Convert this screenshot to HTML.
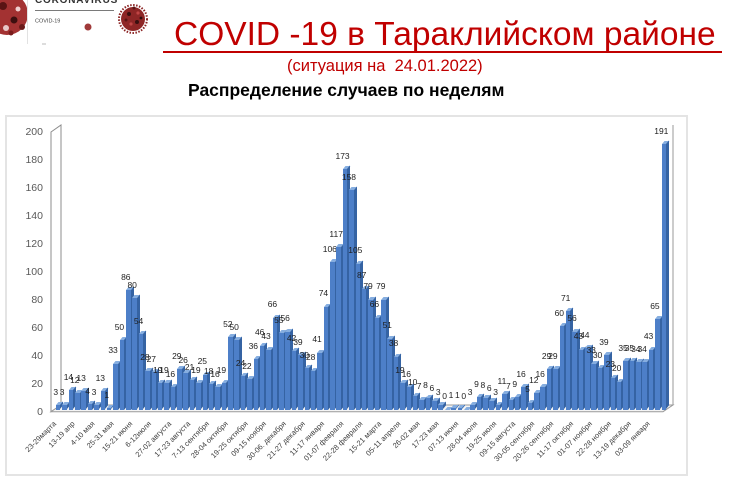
<!DOCTYPE html>
<html>
<head>
<meta charset="utf-8">
<style>
html,body{margin:0;padding:0;background:#fff;}
body{width:750px;height:484px;overflow:hidden;position:relative;font-family:"Liberation Sans",sans-serif;}
.abs{position:absolute;white-space:nowrap;}
.t1{left:174px;top:18.4px;font-size:33.5px;line-height:34px;color:#c00000;}
.ul{left:163px;top:51px;width:559px;height:2px;background:#c00000;}
.t2{left:287px;top:57.8px;font-size:16.5px;line-height:17px;color:#c00000;}
.t3{left:188px;top:81px;font-size:17.5px;line-height:18px;font-weight:bold;color:#000;}
.frame{position:absolute;left:5px;top:115px;width:683px;height:361px;box-sizing:border-box;border:2px solid #e4e4e4;}
.yl{position:absolute;left:0;width:43px;text-align:right;font-size:10.5px;line-height:12px;color:#595959;}
.bars{position:absolute;left:55.95px;top:0;height:409.5px;display:flex;align-items:flex-end;}
.b{flex:0 0 6.39px;width:6.39px;position:relative;height:calc(var(--v) * 1.39px);}
.b::before{content:"";position:absolute;left:0;bottom:0;width:4.5px;height:100%;background:#4d7fc8;}
.b::after{content:"";position:absolute;left:4.5px;bottom:0;width:2.5px;height:100%;background:#3563a3;transform-origin:0 100%;transform:skewY(-50.2deg);}
.b i{position:absolute;left:0;bottom:100%;width:4.5px;height:3px;background:#86aee0;transform-origin:0 100%;transform:skewX(-39.8deg);}
.b b{position:absolute;left:-10.25px;width:20px;text-align:center;bottom:calc(100% + 9.3px);font-size:8.5px;line-height:8px;font-weight:normal;color:#1e1e1e;white-space:nowrap;}
.xl{position:absolute;left:56.7px;top:425px;display:flex;}
.xl span{flex:0 0 19.17px;width:19.17px;height:0;position:relative;}
.xl em{position:absolute;right:100%;top:-6.6px;white-space:nowrap;font-size:7.5px;line-height:8px;font-style:normal;color:#404040;transform-origin:100% 6.6px;transform:rotate(-45deg);}
</style>
</head>
<body>

<svg class="abs" style="left:0;top:0" width="750" height="484" viewBox="0 0 750 484">
  <!-- logo -->
  <circle cx="7" cy="14" r="21" fill="#a33232"/>
  <circle cx="3" cy="6" r="4" fill="#5a1414"/>
  <circle cx="14" cy="20" r="3.5" fill="#3d0f0f"/>
  <circle cx="6" cy="28" r="3" fill="#e8c8c8"/>
  <circle cx="18" cy="9" r="2.5" fill="#f0d0d0"/>
  <circle cx="22" cy="27" r="3" fill="#6a1a1a"/>
  <circle cx="11" cy="33" r="2.5" fill="#7a1c1c"/>
  <rect x="27" y="0" width="90" height="44" fill="#fff"/>
  <line x1="27.5" y1="0" x2="27.5" y2="44" stroke="#e2e2e2" stroke-width="1"/>
  <text x="35" y="3" font-family="Liberation Sans" font-weight="bold" font-size="10" letter-spacing="0.8" fill="#333">CORONAVIRUS</text>
  <line x1="35" y1="10.5" x2="114" y2="10.5" stroke="#7a7a7a" stroke-width="1"/>
  <text x="35" y="22.5" font-family="Liberation Sans" font-size="5.5" fill="#444">COVID-19</text>
  <circle cx="88" cy="27" r="3.5" fill="#a03a3a"/>
  <line x1="42" y1="44" x2="46" y2="44" stroke="#bbb" stroke-width="1"/>
  <g>
    <circle cx="133" cy="19" r="14" fill="none" stroke="#8a2222" stroke-width="2" stroke-dasharray="1.5 1.5"/>
    <circle cx="133" cy="19" r="12" fill="#8e2626"/>
    <circle cx="129" cy="14" r="2" fill="#3a1010"/>
    <circle cx="137" cy="22" r="2" fill="#3a1010"/>
    <circle cx="131" cy="24" r="1.6" fill="#c04545"/>
    <circle cx="138" cy="13" r="1.6" fill="#c04545"/>
    <circle cx="126" cy="20" r="1.5" fill="#5a1515"/>
    <circle cx="134" cy="8" r="1.5" fill="#5a1515"/>
    <circle cx="141" cy="18" r="1.4" fill="#2c0c0c"/>
  </g>
  <!-- 3D walls & floor -->
  <polygon points="51,132 61,125 61,405 51,411.7" fill="#fff" stroke="#8c8c8c" stroke-width="1"/>
  <polygon points="51,411.7 663,411.7 673,405 61,405" fill="#f4f4f4" stroke="#9a9a9a" stroke-width="1"/>
  <line x1="673" y1="125" x2="673" y2="405" stroke="#9a9a9a" stroke-width="1"/>
</svg>

<div class="abs t1">COVID -19 в Тараклийском районе</div>
<div class="abs ul"></div>
<div class="abs t2">(ситуация на&nbsp; 24.01.2022)</div>
<div class="abs t3">Распределение случаев по неделям</div>

<div class="frame"></div>

<div class="yl" style="top:405.7px">0</div>
<div class="yl" style="top:377.8px">20</div>
<div class="yl" style="top:349.8px">40</div>
<div class="yl" style="top:321.9px">60</div>
<div class="yl" style="top:293.9px">80</div>
<div class="yl" style="top:266px">100</div>
<div class="yl" style="top:238.1px">120</div>
<div class="yl" style="top:210.1px">140</div>
<div class="yl" style="top:182.2px">160</div>
<div class="yl" style="top:154.2px">180</div>
<div class="yl" style="top:126.3px">200</div>

<div class="bars">
<div class="b" style="--v:3"><i></i><b>3</b></div>
<div class="b" style="--v:3"><i></i><b>3</b></div>
<div class="b" style="--v:14"><i></i><b>14</b></div>
<div class="b" style="--v:12"><i></i><b>12</b></div>
<div class="b" style="--v:13"><i></i><b>13</b></div>
<div class="b" style="--v:4"><i></i><b>4</b></div>
<div class="b" style="--v:3"><i></i><b>3</b></div>
<div class="b" style="--v:13"><i></i><b>13</b></div>
<div class="b" style="--v:1"><i></i><b>1</b></div>
<div class="b" style="--v:33"><i></i><b>33</b></div>
<div class="b" style="--v:50"><i></i><b>50</b></div>
<div class="b" style="--v:86"><i></i><b>86</b></div>
<div class="b" style="--v:80"><i></i><b>80</b></div>
<div class="b" style="--v:54"><i></i><b>54</b></div>
<div class="b" style="--v:28"><i></i><b>28</b></div>
<div class="b" style="--v:27"><i></i><b>27</b></div>
<div class="b" style="--v:19"><i></i><b>19</b></div>
<div class="b" style="--v:19"><i></i><b>19</b></div>
<div class="b" style="--v:16"><i></i><b>16</b></div>
<div class="b" style="--v:29"><i></i><b>29</b></div>
<div class="b" style="--v:26"><i></i><b>26</b></div>
<div class="b" style="--v:21"><i></i><b>21</b></div>
<div class="b" style="--v:19"><i></i><b>19</b></div>
<div class="b" style="--v:25"><i></i><b>25</b></div>
<div class="b" style="--v:18"><i></i><b>18</b></div>
<div class="b" style="--v:16"><i></i><b>16</b></div>
<div class="b" style="--v:19"><i></i><b>19</b></div>
<div class="b" style="--v:52"><i></i><b>52</b></div>
<div class="b" style="--v:50"><i></i><b>50</b></div>
<div class="b" style="--v:24"><i></i><b>24</b></div>
<div class="b" style="--v:22"><i></i><b>22</b></div>
<div class="b" style="--v:36"><i></i><b>36</b></div>
<div class="b" style="--v:46"><i></i><b>46</b></div>
<div class="b" style="--v:43"><i></i><b>43</b></div>
<div class="b" style="--v:66"><i></i><b>66</b></div>
<div class="b" style="--v:55"><i></i><b>55</b></div>
<div class="b" style="--v:56"><i></i><b>56</b></div>
<div class="b" style="--v:42"><i></i><b>42</b></div>
<div class="b" style="--v:39"><i></i><b>39</b></div>
<div class="b" style="--v:30"><i></i><b>30</b></div>
<div class="b" style="--v:28"><i></i><b>28</b></div>
<div class="b" style="--v:41"><i></i><b>41</b></div>
<div class="b" style="--v:74"><i></i><b>74</b></div>
<div class="b" style="--v:106"><i></i><b>106</b></div>
<div class="b" style="--v:117"><i></i><b>117</b></div>
<div class="b" style="--v:173"><i></i><b>173</b></div>
<div class="b" style="--v:158"><i></i><b>158</b></div>
<div class="b" style="--v:105"><i></i><b>105</b></div>
<div class="b" style="--v:87"><i></i><b>87</b></div>
<div class="b" style="--v:79"><i></i><b>79</b></div>
<div class="b" style="--v:66"><i></i><b>66</b></div>
<div class="b" style="--v:79"><i></i><b>79</b></div>
<div class="b" style="--v:51"><i></i><b>51</b></div>
<div class="b" style="--v:38"><i></i><b>38</b></div>
<div class="b" style="--v:19"><i></i><b>19</b></div>
<div class="b" style="--v:16"><i></i><b>16</b></div>
<div class="b" style="--v:10"><i></i><b>10</b></div>
<div class="b" style="--v:7"><i></i><b>7</b></div>
<div class="b" style="--v:8"><i></i><b>8</b></div>
<div class="b" style="--v:6"><i></i><b>6</b></div>
<div class="b" style="--v:3"><i></i><b>3</b></div>
<div class="b" style="--v:0"><i></i><b>0</b></div>
<div class="b" style="--v:1"><i></i><b>1</b></div>
<div class="b" style="--v:1"><i></i><b>1</b></div>
<div class="b" style="--v:0"><i></i><b>0</b></div>
<div class="b" style="--v:3"><i></i><b>3</b></div>
<div class="b" style="--v:9"><i></i><b>9</b></div>
<div class="b" style="--v:8"><i></i><b>8</b></div>
<div class="b" style="--v:6"><i></i><b>6</b></div>
<div class="b" style="--v:3"><i></i><b>3</b></div>
<div class="b" style="--v:11"><i></i><b>11</b></div>
<div class="b" style="--v:7"><i></i><b>7</b></div>
<div class="b" style="--v:9"><i></i><b>9</b></div>
<div class="b" style="--v:16"><i></i><b>16</b></div>
<div class="b" style="--v:5"><i></i><b>5</b></div>
<div class="b" style="--v:12"><i></i><b>12</b></div>
<div class="b" style="--v:16"><i></i><b>16</b></div>
<div class="b" style="--v:29"><i></i><b>29</b></div>
<div class="b" style="--v:29"><i></i><b>29</b></div>
<div class="b" style="--v:60"><i></i><b>60</b></div>
<div class="b" style="--v:71"><i></i><b>71</b></div>
<div class="b" style="--v:56"><i></i><b>56</b></div>
<div class="b" style="--v:43"><i></i><b>43</b></div>
<div class="b" style="--v:44"><i></i><b>44</b></div>
<div class="b" style="--v:33"><i></i><b>33</b></div>
<div class="b" style="--v:30"><i></i><b>30</b></div>
<div class="b" style="--v:39"><i></i><b>39</b></div>
<div class="b" style="--v:23"><i></i><b>23</b></div>
<div class="b" style="--v:20"><i></i><b>20</b></div>
<div class="b" style="--v:35"><i></i><b>35</b></div>
<div class="b" style="--v:35"><i></i><b>35</b></div>
<div class="b" style="--v:34"><i></i><b>34</b></div>
<div class="b" style="--v:34"><i></i><b>34</b></div>
<div class="b" style="--v:43"><i></i><b>43</b></div>
<div class="b" style="--v:65"><i></i><b>65</b></div>
<div class="b" style="--v:191"><i></i><b>191</b></div>
</div>

<div class="xl">
<span><em>23-29марта</em></span>
<span><em>13-19 апр</em></span>
<span><em>4-10 мая</em></span>
<span><em>25-31 мая</em></span>
<span><em>15-21 июня</em></span>
<span><em>6-12июля</em></span>
<span><em>27-02 августа</em></span>
<span><em>17-23 августа</em></span>
<span><em>7-13 сентября</em></span>
<span><em>28-04 октября</em></span>
<span><em>19-25 октября</em></span>
<span><em>09-15 ноября</em></span>
<span><em>30-06. декабря</em></span>
<span><em>21-27 декабря</em></span>
<span><em>11-17 января</em></span>
<span><em>01-07 февраля</em></span>
<span><em>22-28 февраля</em></span>
<span><em>15-21 марта</em></span>
<span><em>05-11 апреля</em></span>
<span><em>26-02 мая</em></span>
<span><em>17-23 мая</em></span>
<span><em>07-13 июня</em></span>
<span><em>28-04 июля</em></span>
<span><em>19-25 июля</em></span>
<span><em>09-15 августа</em></span>
<span><em>30-05 сентября</em></span>
<span><em>20-26 сентября</em></span>
<span><em>11-17 октября</em></span>
<span><em>01-07 ноября</em></span>
<span><em>22-28 ноября</em></span>
<span><em>13-19 декабря</em></span>
<span><em>03-09 января</em></span>
</div>

</body>
</html>
